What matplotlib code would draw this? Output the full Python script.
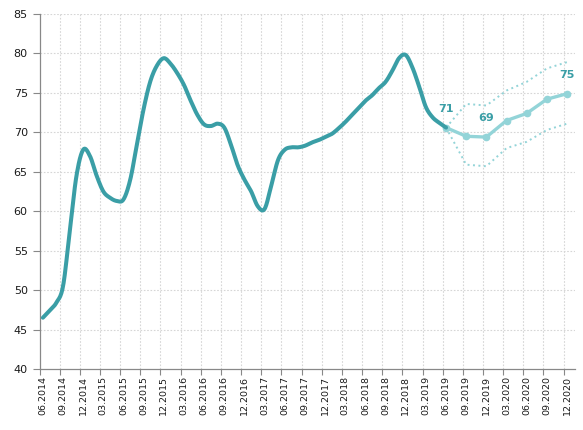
import matplotlib
matplotlib.use("Agg")
import matplotlib.pyplot as plt
import numpy as np

# Quarterly tick labels (monthly category axis, label every 3rd month)
tick_labels = ["06.2014", "09.2014", "12.2014", "03.2015", "06.2015", "09.2015",
               "12.2015", "03.2016", "06.2016", "09.2016", "12.2016", "03.2017",
               "06.2017", "09.2017", "12.2017", "03.2018", "06.2018", "09.2018",
               "12.2018", "03.2019", "06.2019", "09.2019", "12.2019", "03.2020",
               "06.2020", "09.2020", "12.2020"]

# Historical monthly values 06.2014 .. 06.2019
history = [46.5, 47.4, 48.4, 50.5, 57.5, 64.5, 67.8, 67.0, 64.5, 62.5,
           61.7, 61.3, 61.5, 64.0, 68.5, 73.0, 76.5, 78.5, 79.4, 78.7,
           77.5, 76.0, 74.0, 72.2, 71.0, 70.8, 71.1, 70.6, 68.4, 65.8,
           64.0, 62.5, 60.6, 60.3, 63.3, 66.5, 67.8, 68.1, 68.1, 68.3,
           68.7, 69.0, 69.4, 69.8, 70.5, 71.3, 72.2, 73.1, 74.0, 74.7,
           75.6, 76.4, 77.8, 79.4, 79.8, 78.2, 75.8, 73.2, 71.9, 71.2,
           70.6]

# Forecast (quarterly) 06.2019 .. 12.2020
forecast = [70.6, 69.5, 69.4, 71.5, 72.4, 74.2, 74.9]
forecast_upper = [70.6, 73.6, 73.4, 75.3, 76.4, 78.1, 78.9]
forecast_lower = [70.6, 65.9, 65.7, 68.0, 68.8, 70.3, 71.1]
forecast_labels = {0: "71", 2: "69", 6: "75"}

dark = "#3a9ea6"
light = "#93d4d8"


def smooth(x, y, steps=12):
    """Smoothed-line rendering (Catmull-Rom) through the given points."""
    x = np.asarray(x, float)
    y = np.asarray(y, float)
    px = np.concatenate([[2 * x[0] - x[1]], x, [2 * x[-1] - x[-2]]])
    py = np.concatenate([[2 * y[0] - y[1]], y, [2 * y[-1] - y[-2]]])
    t = np.linspace(0, 1, steps, endpoint=False)
    xs, ys = [], []
    for i in range(1, len(px) - 2):
        for arr, out in ((px, xs), (py, ys)):
            p0, p1, p2, p3 = arr[i - 1], arr[i], arr[i + 1], arr[i + 2]
            out.extend(0.5 * ((2 * p1) + (-p0 + p2) * t
                              + (2 * p0 - 5 * p1 + 4 * p2 - p3) * t ** 2
                              + (-p0 + 3 * p1 - 3 * p2 + p3) * t ** 3))
    xs.append(x[-1])
    ys.append(y[-1])
    return np.array(xs), np.array(ys)


fig = plt.figure(figsize=(5.83, 4.30), dpi=100)
ax = fig.add_axes([0.0678, 0.1419, 0.9186, 0.8255])

x_hist = np.arange(len(history))
x_fc = np.arange(len(history) - 1, len(history) - 1 + 3 * len(forecast), 3)

ax.plot(x_fc, forecast_upper, color=light, lw=1.4, ls=(0, (1, 1.8)), zorder=2)
ax.plot(x_fc, forecast_lower, color=light, lw=1.4, ls=(0, (1, 1.8)), zorder=2)
ax.plot(x_fc, forecast, color=light, lw=2.4, marker="o", ms=4.5,
        solid_joinstyle="round", zorder=3)
sx, sy = smooth(x_hist, history)
ax.plot(sx, sy, color=dark, lw=2.9, solid_joinstyle="round",
        solid_capstyle="round", zorder=4)

for i, txt in forecast_labels.items():
    ax.annotate(txt, (x_fc[i], forecast[i]), xytext=(0, 10),
                textcoords="offset points", ha="center", va="bottom",
                color=dark, fontsize=8, fontweight="bold")

n_months = 3 * (len(tick_labels) - 1) + 1
ax.set_xlim(-0.5, n_months + 0.2)
ax.set_ylim(40, 85)

ax.set_xticks(np.arange(0, n_months, 3))
ax.set_xticklabels(tick_labels, rotation=90, fontsize=6.8, color="#1a1a1a")
ax.set_xticks(np.arange(-0.5, n_months, 3), minor=True)
ax.tick_params(axis="x", which="major", length=0, pad=5)
ax.tick_params(axis="x", which="minor", length=4, color="#888888", width=0.8)

ax.set_yticks(np.arange(40, 86, 5))
ax.tick_params(axis="y", labelsize=8, colors="#888888", labelcolor="#1a1a1a",
               length=5, width=0.8)

for k in range(1, len(tick_labels)):
    ax.axvline(-0.5 + 3 * k, color="#d6d6d6", lw=0.8, ls=(0, (1.5, 1.5)), zorder=0)
for y in range(45, 86, 5):
    ax.axhline(y, color="#d6d6d6", lw=0.8, ls=(0, (1.5, 1.5)), zorder=0)

for s in ["top", "right"]:
    ax.spines[s].set_visible(False)
for s in ["left", "bottom"]:
    ax.spines[s].set_color("#888888")
    ax.spines[s].set_linewidth(0.9)

fig.savefig("out.png", dpi=100)
